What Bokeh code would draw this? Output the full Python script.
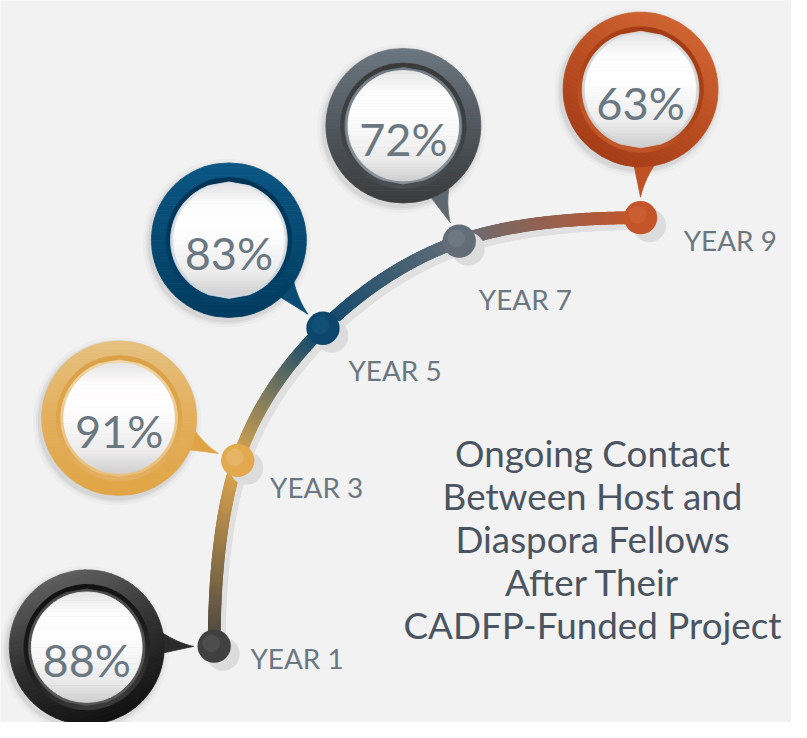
import numpy as np
from bokeh.plotting import figure
from bokeh.models import Range1d
from bokeh.core.properties import value
from bokeh.embed import file_html
from bokeh.resources import INLINE

# ---------------- data ----------------
years = ["YEAR 1", "YEAR 3", "YEAR 5", "YEAR 7", "YEAR 9"]
percent = [88, 91, 83, 72, 63]
title_lines = ["Ongoing Contact", "Between Host and", "Diaspora Fellows",
               "After Their", "CADFP-Funded Project"]

# ---------------- layout (reference pixels, y downwards) ----------------
node_x = [218, 242, 329, 468, 653]
node_y = [660, 470, 335, 246, 222]
bubble_x = [88, 121, 233, 411, 653]
bubble_y = [661, 427, 245, 128, 91]
label_x = [255, 275, 355, 488, 697]
label_y = [672, 497, 378, 305, 245]
title_x = 604
title_y0, title_dy = 463, 43.8

# ---------------- styles ----------------
node_col = ["#404040", "#e2a94f", "#0c466c", "#636d77", "#c4552a"]
node_hi = ["#5e5e5e", "#ebc27e", "#1a5a82", "#7a848d", "#d36a3c"]
tail_col = ["#2b2b2b", "#e0a446", "#0a4a73", "#5d6871", "#bf5125"]
grad_dir = [70, 90, 90, 90, 120]
outer_stops = [["#5e5e5e", "#2e2e2e", "#111111"],
               ["#e5c180", "#e3ae5c", "#e0a545"],
               ["#0b5683", "#064a73", "#013b5e"],
               ["#6b7781", "#50575e", "#3b3b3b"],
               ["#cf6331", "#bb4e22", "#a53d17"]]
inner_stops = [["#111111", "#1c1c1c", "#3a3a3a"],
               ["#dca148", "#dea54f", "#e4b062"],
               ["#003455", "#013a5e", "#04436a"],
               ["#3a3a3a", "#3f4143", "#4a4e52"],
               ["#a23b16", "#ad4419", "#c45a2b"]]
rim_stops = [["#4a4a4a", "#5a5a5a"],
             ["#efd6a6", "#e8c07c"],
             ["#dfe4e8", "#cfd6dc"],
             ["#6f7a84", "#8a949c"],
             ["#dcdcdc", "#d0d0d0"]]
white_stops = ["#e6e6e6", "#fdfdfd", "#ffffff", "#f6f6f6", "#ececec", "#d0d0d0"]
R_OUT, R_IN, R_RIM, R_WHITE = 79, 64, 59.5, 56.5
BG = "#f2f2f2"
txt_col = "#6b7781"
title_col = "#4b5461"
FONT = "Lato"

W, H = 791, 722
REF_W, REF_H = 807, 738
S = W / REF_W  # px per reference unit


def h2r(h):
    return np.array([int(h[i:i + 2], 16) for i in (1, 3, 5)], float)


def r2h(c):
    c = np.clip(c, 0, 255)
    return "#%02x%02x%02x" % tuple(int(round(v)) for v in c)


def color_at(stops, t):
    n = len(stops) - 1
    if n == 0:
        return stops[0]
    pos = t * n
    i = min(int(pos), n - 1)
    f = pos - i
    return r2h(h2r(stops[i]) * (1 - f) + h2r(stops[i + 1]) * f)


p = figure(width=W, height=H, x_range=Range1d(0, REF_W), y_range=Range1d(REF_H, 0),
           output_backend="svg", toolbar_location=None, min_border=0,
           x_axis_location=None, y_axis_location=None)
p.grid.visible = False
p.outline_line_color = None
p.background_fill_color = BG
p.border_fill_color = BG


def grad_disk(cx, cy, r, stops, ang_deg, n=36):
    a = np.radians(ang_deg)
    d = np.array([np.cos(a), np.sin(a)])
    nv = np.array([-d[1], d[0]])
    edges = np.linspace(-r, r, n + 1)
    xs, ys, cols = [], [], []
    for i in range(n):
        uu = np.linspace(edges[i], edges[i + 1], 5)
        v = np.sqrt(np.maximum(r * r - uu ** 2, 0))
        u = np.concatenate([uu, uu[::-1]])
        vv = np.concatenate([v, -v[::-1]])
        px = cx + u * d[0] + vv * nv[0]
        py = cy + u * d[1] + vv * nv[1]
        xs.append(px.tolist())
        ys.append(py.tolist())
        cols.append(color_at(stops, (i + 0.5) / n))
    p.patches(xs, ys, fill_color=cols, line_color=cols, line_width=0.8)


# ---------------- connecting curve ----------------
P = np.array(list(zip(node_x, node_y)), float)
pre = np.array([P[1, 0], 2 * P[0, 1] - P[1, 1]])
post = np.array([2 * P[-1, 0] - P[-2, 0], P[-2, 1]])
ext = np.vstack([pre, P, post])
cx0, cy0, cx1, cy1, ccol = [], [], [], [], []
for i in range(len(P) - 1):
    p0, p1, p2, p3 = ext[i], ext[i + 1], ext[i + 2], ext[i + 3]
    m1 = (p2 - p0) / 2
    m2 = (p3 - p1) / 2
    b0, b1, b2, b3 = p1, p1 + m1 / 3, p2 - m2 / 3, p2
    t = np.linspace(0, 1, 70)[:, None]
    seg = (1 - t) ** 3 * b0 + 3 * (1 - t) ** 2 * t * b1 + 3 * (1 - t) * t ** 2 * b2 + t ** 3 * b3
    for k in range(len(seg) - 1):
        cx0.append(seg[k, 0]); cy0.append(seg[k, 1])
        cx1.append(seg[k + 1, 0]); cy1.append(seg[k + 1, 1])
        f = (k + 0.5) / (len(seg) - 1)
        ccol.append(color_at([node_col[i], node_col[i + 1]], f))

sh = np.array
p.segment(sh(cx0) + 5, sh(cy0) + 6, sh(cx1) + 5, sh(cy1) + 6,
          line_color="#e0e0e0", line_width=13 * S, line_cap="round")
p.segment(cx0, cy0, cx1, cy1, line_color=ccol, line_width=13 * S, line_cap="round")

# node dots
p.circle(sh(node_x) + 9, sh(node_y) + 8, radius=17, fill_color="#dcdcdc", line_color=None)
p.circle(node_x, node_y, radius=17, fill_color=node_col, line_color=None)
p.circle(sh(node_x) - 3, sh(node_y) - 3, radius=9, fill_color=node_hi, line_color=None, fill_alpha=0.45)

# ---------------- bubbles ----------------
for i in range(len(percent)):
    bx, by = bubble_x[i], bubble_y[i]
    for rr, al in [(86, 0.025), (83, 0.04), (81, 0.05)]:
        p.circle([bx - 2], [by + 3], radius=rr, fill_color="#000000", fill_alpha=al, line_color=None)
    d = np.array([node_x[i] - bx, node_y[i] - by], float)
    u = d / np.hypot(*d)
    tip = np.array([node_x[i], node_y[i]]) - u * 21
    th = np.arctan2(u[1], u[0])
    ctr = np.array([bx, by], float)
    ba = ctr + (R_OUT - 6) * np.array([np.cos(th - np.radians(15)), np.sin(th - np.radians(15))])
    bb = ctr + (R_OUT - 6) * np.array([np.cos(th + np.radians(6)), np.sin(th + np.radians(6))])
    mid = (ba + tip) / 2
    cpt = mid + (ctr + u * np.dot(mid - ctr, u) - mid) * 0.55
    tt = np.linspace(0, 1, 20)[:, None]
    side1 = (1 - tt) ** 2 * ba + 2 * (1 - tt) * tt * cpt + tt ** 2 * tip
    side2 = tip + tt * (bb - tip)
    poly = np.vstack([side1, side2])
    p.patch(poly[:, 0], poly[:, 1], fill_color=tail_col[i], line_color=tail_col[i], line_width=0.8)
    grad_disk(bx, by, R_OUT, outer_stops[i], grad_dir[i])
    grad_disk(bx, by, R_IN, inner_stops[i], grad_dir[i])
    grad_disk(bx, by, R_RIM, rim_stops[i], 90, n=8)
    grad_disk(bx, by, R_WHITE, white_stops, 90, n=40)

# percentages
p.text(x=bubble_x, y=list(sh(bubble_y) + 13), text=[f"{v}%" for v in percent],
       text_font=value(FONT), text_font_size=f"{46 * S:.1f}px", text_color=txt_col,
       text_align="center", text_baseline="alphabetic")

# year labels
p.text(x=label_x, y=label_y, text=years, text_font=value(FONT), text_font_size=f"{28.5 * S:.1f}px",
       text_color=txt_col, text_align="left", text_baseline="alphabetic")

# title
p.text(x=[title_x] * len(title_lines), y=[title_y0 + k * title_dy for k in range(len(title_lines))],
       text=title_lines, text_font=value(FONT), text_font_size=f"{37.5 * S:.1f}px", text_color=title_col,
       text_align="center", text_baseline="alphabetic")

open("out.html", "w").write(file_html(p, INLINE))
